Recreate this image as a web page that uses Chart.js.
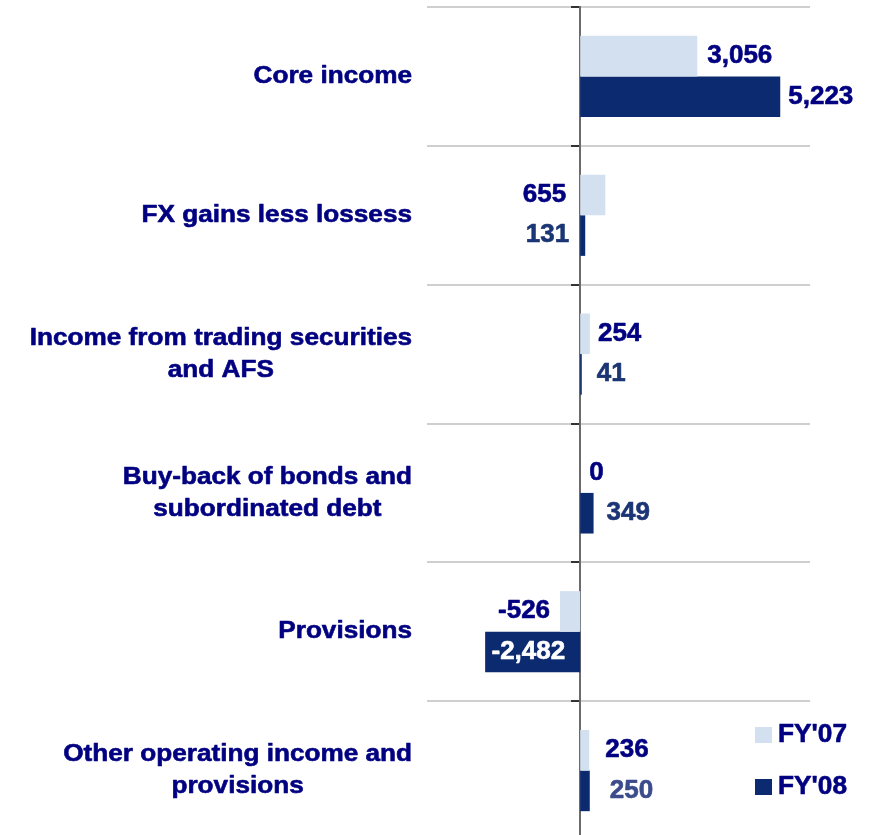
<!DOCTYPE html>
<html>
<head>
<meta charset="utf-8">
<script src="https://cdn.jsdelivr.net/npm/chart.js@4.4.1/dist/chart.umd.min.js"></script>
<style>
  html, body { margin: 0; padding: 0; overflow: hidden; background: #fff; }
  #wrap { position: relative; width: 869px; height: 840px; }
</style>
</head>
<body>
<div id="wrap"><canvas id="myChart"></canvas></div>
<script>
// data
const categories = [
  ["Core income"],
  ["FX gains less lossess"],
  ["Income from trading securities", "and AFS"],
  ["Buy-back of bonds and", "subordinated debt"],
  ["Provisions"],
  ["Other operating income and", "provisions"]
];
const seriesNames = ["FY'07", "FY'08"];
const fy07 = [3056, 655, 254, 0, -526, 236];
const fy08 = [5223, 131, 41, 349, -2482, 250];

// styles
const colors = ["#d3e0f0", "#0b2a6f"];
const navy = "#000080";
const fontFamily = "'Liberation Sans', Arial, sans-serif";
// where each value label goes: "end" = after bar end, "zero" = left of zero line, "inside" = in the bar
const labelPlace = [
  ["end", "zero", "end", "end", "end", "end"],
  ["end", "zero", "end", "end", "inside", "end"]
];
const labelGap = [
  [10, 14, 8, 9, 10, 16],
  [8, 11, 15, 13, 15, 20]
];
const labelColor = [
  [navy, navy, navy, navy, navy, navy],
  [navy, "#1b3575", "#1b3575", "#1b3575", "#ffffff", "#3b4b8c"]
];

const fmt = v => v.toLocaleString("en-US");

function drawText(ctx, text, x, y, align, sx)
{
  ctx.save();
  ctx.translate(x, y);
  ctx.scale(sx, 1);
  ctx.textAlign = align;
  ctx.strokeStyle = ctx.fillStyle;
  ctx.lineWidth = 0.6;
  ctx.lineJoin = "round";
  ctx.fillText(text, 0, 0);
  ctx.strokeText(text, 0, 0);
  ctx.restore();
}

const textPlugin = {
  id: "textPlugin",
  afterDraw(chart)
  {
    const ctx = chart.ctx;
    const yScale = chart.scales.y;
    ctx.save();
    ctx.textBaseline = "middle";

    // category labels: block right-aligned, lines centred inside the block
    ctx.font = "bold 24px " + fontFamily;
    ctx.fillStyle = navy;
    const sx = 1.09;
    const right = 412;
    categories.forEach((lines, i) =>
    {
      const cy = yScale.getPixelForValue(i);
      const w = Math.max(...lines.map(l => ctx.measureText(l).width)) * sx;
      const cx = right - w / 2;
      lines.forEach((line, k) =>
      {
        drawText(ctx, line, cx, cy + (k - (lines.length - 1) / 2) * 32, "center", sx);
      });
    });

    // value labels
    ctx.font = "bold 25px " + fontFamily;
    [fy07, fy08].forEach((values, d) =>
    {
      const meta = chart.getDatasetMeta(d);
      meta.data.forEach((bar, i) =>
      {
        const v = values[i];
        const place = labelPlace[d][i];
        const gap = labelGap[d][i];
        ctx.fillStyle = labelColor[d][i];
        if (place === "zero" || place === "inside")
          drawText(ctx, fmt(v), bar.base - gap, bar.y, "right", 1.04);
        else if (v >= 0)
          drawText(ctx, fmt(v), bar.x + gap, bar.y, "left", 1.04);
        else
          drawText(ctx, fmt(v), bar.x - gap, bar.y, "right", 1.04);
      });
    });

    // legend (vertical, bottom right)
    seriesNames.forEach((name, d) =>
    {
      const top = 727 + d * 52;
      ctx.fillStyle = colors[d];
      ctx.fillRect(755, top, 17, 16);
      ctx.fillStyle = navy;
      drawText(ctx, name, 778, top + 8, "left", 1.05);
    });
    ctx.restore();
  }
};

new Chart(document.getElementById("myChart"), {
  type: "bar",
  data: {
    labels: categories.map(c => c.join(" ")),
    datasets: [
      {label: seriesNames[0], data: fy07, backgroundColor: colors[0], borderWidth: 0},
      {label: seriesNames[1], data: fy08, backgroundColor: colors[1], borderWidth: 0}
    ]
  },
  options: {
    indexAxis: "y",
    responsive: true,
    maintainAspectRatio: false,
    animation: false,
    devicePixelRatio: 1,
    categoryPercentage: 0.585,
    barPercentage: 1.0,
    layout: {
      padding: {left: 427, right: 59, top: 7, bottom: 0}
    },
    plugins: {
      legend: {display: false},
      tooltip: {enabled: false}
    },
    scales: {
      x: {
        display: false,
        min: -4000,
        max: 6000
      },
      y: {
        position: {x: 0},
        offset: true,
        ticks: {display: false},
        grid: {
          offset: true,
          color: "#cfcfcf",
          lineWidth: 2,
          drawTicks: true,
          tickLength: 8,
          tickColor: "#333333"
        },
        border: {
          display: true,
          color: "#6b6b6b",
          width: 2
        }
      }
    }
  },
  plugins: [textPlugin]
});
</script>
</body>
</html>
